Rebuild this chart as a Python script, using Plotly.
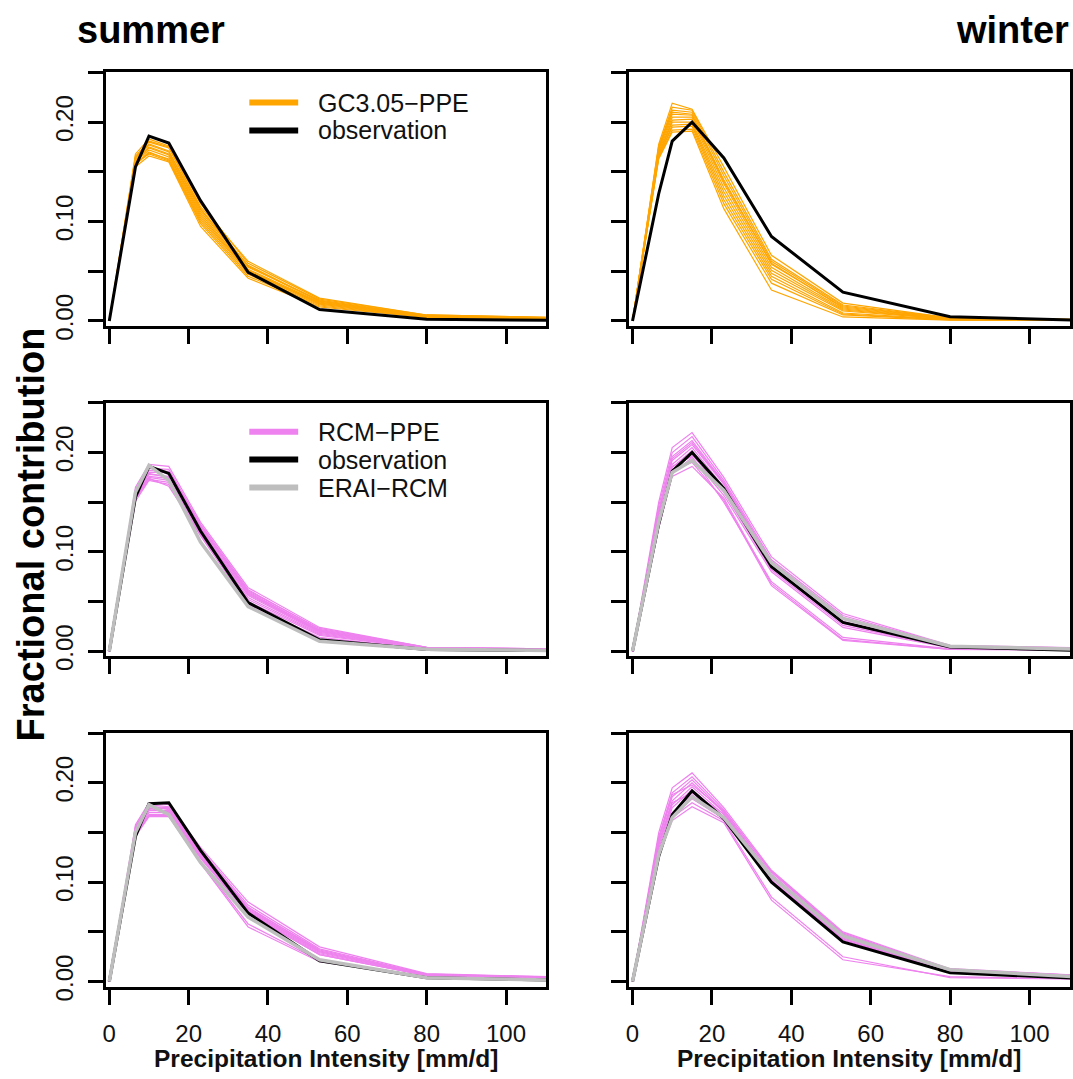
import plotly.graph_objects as go

W, H = 1073, 1079

# ---------------- data ----------------
intensity = [0, 6.6, 10, 15, 23, 35, 53, 80, 120]  # mm/d bin positions

obs_summer = [0, 0.155, 0.186, 0.179, 0.121, 0.049, 0.0115, 0.0018, 0.0003]
obs_winter = [0, 0.128, 0.181, 0.200, 0.164, 0.085, 0.029, 0.0043, 0.0]
obs_summer_b = [0, 0.146, 0.179, 0.180, 0.132, 0.069, 0.021, 0.004, 0.0008]
obs_winter_b = [0, 0.126, 0.168, 0.192, 0.164, 0.100, 0.040, 0.009, 0.002]

erai_summer = [0, 0.160, 0.187, 0.172, 0.110, 0.045, 0.010, 0.002, 0.0005]
erai_winter = [0, 0.130, 0.180, 0.192, 0.162, 0.089, 0.033, 0.005, 0.0015]
erai_summer_b = [0, 0.150, 0.178, 0.168, 0.120, 0.065, 0.022, 0.004, 0.001]
erai_winter_b = [0, 0.128, 0.165, 0.186, 0.165, 0.106, 0.046, 0.012, 0.003]

gc_summer = [
    [0, 0.168, 0.183, 0.176, 0.118, 0.058, 0.022, 0.006, 0.003],
    [0, 0.165, 0.178, 0.171, 0.112, 0.055, 0.020, 0.005, 0.0025],
    [0, 0.162, 0.175, 0.168, 0.108, 0.052, 0.019, 0.005, 0.0025],
    [0, 0.160, 0.172, 0.165, 0.104, 0.050, 0.018, 0.0045, 0.002],
    [0, 0.158, 0.170, 0.162, 0.100, 0.047, 0.016, 0.004, 0.002],
    [0, 0.155, 0.166, 0.160, 0.095, 0.043, 0.014, 0.0035, 0.0015],
    [0, 0.166, 0.180, 0.174, 0.115, 0.060, 0.023, 0.006, 0.003],
    [0, 0.163, 0.177, 0.170, 0.110, 0.054, 0.021, 0.0055, 0.0028],
    [0, 0.161, 0.174, 0.167, 0.106, 0.051, 0.018, 0.0048, 0.0022],
    [0, 0.157, 0.169, 0.163, 0.102, 0.049, 0.017, 0.0042, 0.002],
    [0, 0.164, 0.181, 0.175, 0.113, 0.056, 0.020, 0.0052, 0.0026],
    [0, 0.159, 0.168, 0.161, 0.098, 0.045, 0.015, 0.0038, 0.0018],
]
gc_winter = [
    [0, 0.178, 0.219, 0.213, 0.155, 0.066, 0.018, 0.003, 0.001],
    [0, 0.175, 0.215, 0.212, 0.150, 0.062, 0.016, 0.003, 0.001],
    [0, 0.173, 0.212, 0.210, 0.146, 0.060, 0.015, 0.0025, 0.001],
    [0, 0.172, 0.208, 0.207, 0.142, 0.057, 0.014, 0.0025, 0.0008],
    [0, 0.170, 0.205, 0.205, 0.138, 0.054, 0.012, 0.002, 0.0008],
    [0, 0.168, 0.202, 0.203, 0.134, 0.051, 0.011, 0.002, 0.0007],
    [0, 0.167, 0.200, 0.200, 0.130, 0.048, 0.010, 0.0018, 0.0006],
    [0, 0.165, 0.197, 0.198, 0.126, 0.045, 0.008, 0.0015, 0.0005],
    [0, 0.166, 0.195, 0.196, 0.122, 0.042, 0.007, 0.0012, 0.0005],
    [0, 0.164, 0.192, 0.193, 0.118, 0.038, 0.006, 0.001, 0.0004],
    [0, 0.163, 0.190, 0.191, 0.113, 0.031, 0.004, 0.0008, 0.0003],
    [0, 0.176, 0.210, 0.208, 0.140, 0.058, 0.013, 0.0022, 0.0009],
]
rcm_summer = [
    [0, 0.165, 0.188, 0.186, 0.130, 0.064, 0.024, 0.004, 0.002],
    [0, 0.162, 0.184, 0.183, 0.128, 0.062, 0.022, 0.004, 0.0018],
    [0, 0.160, 0.180, 0.180, 0.126, 0.060, 0.021, 0.0035, 0.0016],
    [0, 0.158, 0.178, 0.176, 0.124, 0.058, 0.020, 0.0035, 0.0015],
    [0, 0.156, 0.176, 0.174, 0.122, 0.056, 0.019, 0.003, 0.0014],
    [0, 0.155, 0.175, 0.172, 0.120, 0.054, 0.018, 0.003, 0.0013],
    [0, 0.153, 0.173, 0.170, 0.118, 0.050, 0.016, 0.0028, 0.0012],
    [0, 0.151, 0.172, 0.168, 0.116, 0.047, 0.014, 0.0025, 0.001],
    [0, 0.163, 0.186, 0.178, 0.125, 0.061, 0.023, 0.004, 0.0018],
    [0, 0.157, 0.179, 0.175, 0.121, 0.057, 0.020, 0.0033, 0.0015],
    [0, 0.154, 0.174, 0.166, 0.117, 0.052, 0.017, 0.003, 0.0012],
    [0, 0.159, 0.182, 0.181, 0.127, 0.059, 0.021, 0.0036, 0.0016],
]
rcm_winter = [
    [0, 0.150, 0.205, 0.220, 0.175, 0.095, 0.038, 0.006, 0.003],
    [0, 0.146, 0.200, 0.216, 0.172, 0.092, 0.036, 0.0055, 0.0028],
    [0, 0.142, 0.196, 0.212, 0.170, 0.090, 0.034, 0.005, 0.0025],
    [0, 0.138, 0.192, 0.208, 0.168, 0.088, 0.032, 0.005, 0.0022],
    [0, 0.135, 0.188, 0.205, 0.165, 0.086, 0.030, 0.0045, 0.002],
    [0, 0.132, 0.185, 0.202, 0.162, 0.084, 0.028, 0.004, 0.0018],
    [0, 0.128, 0.182, 0.198, 0.160, 0.082, 0.026, 0.004, 0.0016],
    [0, 0.125, 0.179, 0.195, 0.157, 0.080, 0.024, 0.0035, 0.0015],
    [0, 0.130, 0.186, 0.196, 0.150, 0.070, 0.014, 0.0025, 0.001],
    [0, 0.127, 0.182, 0.190, 0.152, 0.066, 0.011, 0.002, 0.001],
    [0, 0.124, 0.176, 0.186, 0.154, 0.068, 0.012, 0.002, 0.001],
    [0, 0.140, 0.194, 0.210, 0.169, 0.089, 0.033, 0.005, 0.0023],
]
rcm_summer_b = [
    [0, 0.158, 0.180, 0.178, 0.135, 0.080, 0.035, 0.008, 0.004],
    [0, 0.156, 0.178, 0.176, 0.133, 0.077, 0.033, 0.0075, 0.0038],
    [0, 0.154, 0.176, 0.175, 0.131, 0.075, 0.031, 0.007, 0.0036],
    [0, 0.152, 0.174, 0.174, 0.129, 0.073, 0.030, 0.007, 0.0035],
    [0, 0.150, 0.172, 0.172, 0.128, 0.071, 0.029, 0.0065, 0.0033],
    [0, 0.149, 0.170, 0.170, 0.126, 0.070, 0.028, 0.006, 0.0032],
    [0, 0.147, 0.168, 0.168, 0.124, 0.068, 0.027, 0.006, 0.003],
    [0, 0.146, 0.166, 0.166, 0.120, 0.058, 0.021, 0.005, 0.0028],
    [0, 0.148, 0.167, 0.167, 0.119, 0.055, 0.020, 0.005, 0.0027],
    [0, 0.155, 0.177, 0.173, 0.130, 0.074, 0.032, 0.0072, 0.0036],
    [0, 0.151, 0.173, 0.171, 0.127, 0.072, 0.030, 0.0068, 0.0034],
    [0, 0.153, 0.175, 0.169, 0.125, 0.069, 0.027, 0.0062, 0.0031],
]
rcm_winter_b = [
    [0, 0.150, 0.195, 0.210, 0.175, 0.112, 0.050, 0.013, 0.005],
    [0, 0.146, 0.190, 0.206, 0.173, 0.110, 0.048, 0.012, 0.0048],
    [0, 0.143, 0.186, 0.203, 0.171, 0.108, 0.047, 0.012, 0.0046],
    [0, 0.140, 0.182, 0.200, 0.170, 0.106, 0.046, 0.011, 0.0044],
    [0, 0.137, 0.178, 0.196, 0.168, 0.105, 0.045, 0.011, 0.0042],
    [0, 0.134, 0.175, 0.193, 0.166, 0.104, 0.044, 0.010, 0.004],
    [0, 0.131, 0.170, 0.188, 0.165, 0.102, 0.043, 0.010, 0.0038],
    [0, 0.128, 0.166, 0.184, 0.164, 0.101, 0.042, 0.0095, 0.0036],
    [0, 0.126, 0.162, 0.176, 0.160, 0.082, 0.022, 0.005, 0.002],
    [0, 0.128, 0.165, 0.180, 0.162, 0.085, 0.025, 0.004, 0.0022],
    [0, 0.144, 0.188, 0.198, 0.172, 0.111, 0.049, 0.0125, 0.0047],
    [0, 0.139, 0.180, 0.190, 0.169, 0.107, 0.046, 0.011, 0.0043],
]

x_ticks = [0, 20, 40, 60, 80, 100]
x_ticklabels = ["0", "20", "40", "60", "80", "100"]
y_ticks = [0, 0.05, 0.10, 0.15, 0.20, 0.25]
y_ticklabels = ["0.00", "", "0.10", "", "0.20", ""]

ORANGE = "#FFA500"
VIOLET = "#EE82EE"
GREY = "#BEBEBE"
FONT = "Liberation Sans, Arial, Helvetica, sans-serif"
TXT = "#111111"

# panels: (row, col, ensemble, ens colour, obs, erai)
panels = [
    (0, 0, gc_summer, ORANGE, obs_summer, None),
    (0, 1, gc_winter, ORANGE, obs_winter, None),
    (1, 0, rcm_summer, VIOLET, obs_summer, erai_summer),
    (1, 1, rcm_winter, VIOLET, obs_winter, erai_winter),
    (2, 0, rcm_summer_b, VIOLET, obs_summer_b, erai_summer_b),
    (2, 1, rcm_winter_b, VIOLET, obs_winter_b, erai_winter_b),
]

# panel boxes in pixels
col_px = [(103, 545), (627.7, 1070)]
row_px = [(73.3, 330.7), (408.3, 665.7), (743.3, 1000.7)]


def px_x(v):
    return v / W


def px_y(v):
    return 1 - v / H


fig = go.Figure()
layout = dict(
    width=W, height=H, autosize=False,
    margin=dict(l=0, r=0, t=0, b=0),
    paper_bgcolor="white", plot_bgcolor="white",
    showlegend=False,
    font=dict(family=FONT, color=TXT),
)

for i, (r, c, ens, ecol, obs, erai) in enumerate(panels):
    k = "" if i == 0 else str(i + 1)
    xa, ya = "x" + k, "y" + k
    for m in ens:
        fig.add_trace(go.Scatter(x=intensity, y=m, mode="lines",
                                 line=dict(color=ecol, width=1.2),
                                 xaxis=xa, yaxis=ya, hoverinfo="skip"))
    fig.add_trace(go.Scatter(x=intensity, y=obs, mode="lines",
                             line=dict(color="black", width=3),
                             xaxis=xa, yaxis=ya))
    if erai is not None:
        fig.add_trace(go.Scatter(x=intensity, y=erai, mode="lines",
                                 line=dict(color=GREY, width=3.5),
                                 xaxis=xa, yaxis=ya))
    x0, x1 = col_px[c]
    y0, y1 = row_px[r]
    common = dict(showline=True, mirror=True, linecolor="black", linewidth=3,
                  ticks="outside", ticklen=15, tickwidth=3, tickcolor="black",
                  showgrid=False, zeroline=False,
                  tickfont=dict(family=FONT, size=24, color=TXT))
    layout["xaxis" + k] = dict(
        common, domain=[px_x(x0), px_x(x1)], range=[-0.9, 110.2],
        anchor=ya, tickvals=x_ticks, ticktext=x_ticklabels,
        showticklabels=(r == 2), ticklabelstandoff=8)
    layout["yaxis" + k] = dict(
        common, domain=[px_y(y1), px_y(y0)], range=[-0.0052, 0.2502],
        anchor=xa, tickvals=y_ticks, ticktext=y_ticklabels,
        showticklabels=(c == 0), tickangle=-90, ticklabelstandoff=5)

shapes = []
annotations = []


def legend_entry(y, color, label):
    shapes.append(dict(type="line", xref="paper", yref="paper",
                       x0=px_x(247), x1=px_x(296), y0=px_y(y), y1=px_y(y),
                       line=dict(color=color, width=6)))
    annotations.append(dict(xref="paper", yref="paper", x=px_x(314), y=px_y(y),
                            xanchor="left", yanchor="middle", showarrow=False,
                            text=label, font=dict(family=FONT, size=25, color=TXT)))


legend_entry(104.0, ORANGE, "GC3.05\u2212PPE")
legend_entry(132.3, "black", "observation")
legend_entry(437.8, VIOLET, "RCM\u2212PPE")
legend_entry(466.1, "black", "observation")
legend_entry(494.4, GREY, "ERAI\u2212RCM")

annotations.append(dict(xref="paper", yref="paper", x=px_x(72), y=px_y(30),
                        xanchor="left", yanchor="middle", showarrow=False, text="summer",
                        font=dict(family=FONT, size=38, color="black", weight="bold")))
annotations.append(dict(xref="paper", yref="paper", x=px_x(1071), y=px_y(30),
                        xanchor="right", yanchor="middle", showarrow=False, text="winter",
                        font=dict(family=FONT, size=38, color="black", weight="bold")))
annotations.append(dict(xref="paper", yref="paper", x=px_x(29), y=px_y(542),
                        xanchor="center", yanchor="middle", showarrow=False,
                        text="Fractional contribution", textangle=-90,
                        font=dict(family=FONT, size=38, color="black", weight="bold")))
for c in range(2):
    cx = (col_px[c][0] + col_px[c][1]) / 2
    annotations.append(dict(xref="paper", yref="paper", x=px_x(cx), y=px_y(1073),
                            xanchor="center", yanchor="middle", showarrow=False,
                            borderpad=0,
                            text="Precipitation Intensity [mm/d]",
                            font=dict(family=FONT, size=24.5, color=TXT, weight="bold")))

layout["shapes"] = shapes
layout["annotations"] = annotations
fig.update_layout(**layout)
fig.write_html("out.html",
               config={"displayModeBar": False},
               post_script="document.body.style.margin='0';document.body.style.overflow='hidden';")
